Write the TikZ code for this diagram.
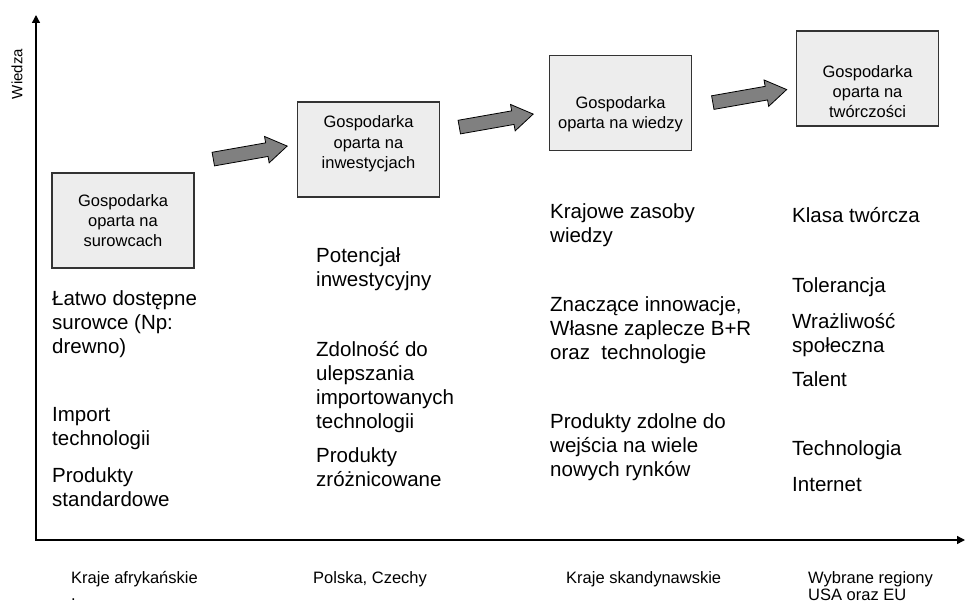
\documentclass[tikz,border=0pt]{standalone}
\usepackage{fontspec}
\setmainfont{Liberation Sans}
\usetikzlibrary{arrows.meta}
\usetikzlibrary{shapes.arrows}

\begin{document}
\begin{tikzpicture}[x=1pt, y=-1pt,
  econbox/.style={draw=black!80, line width=1.2pt, fill=black!7,
       minimum width=142pt, minimum height=95pt, inner sep=0pt},
  boxtext/.style={align=center, anchor=base, inner sep=0pt,
       font=\fontsize{16.5}{20}\selectfont},
  feature/.style={align=left, anchor=base west, inner sep=0pt,
       font=\fontsize{20.5}{24}\selectfont},
  region/.style={align=left, anchor=base west, inner sep=0pt,
       font=\fontsize{16.5}{17}\selectfont},
  fatarrow/.style={single arrow, draw=black, line width=0.8pt, fill=black!50,
       minimum height=75pt, inner sep=6.5pt, single arrow head extend=6.5pt,
       single arrow tip angle=66, rotate=10},
  axis/.style={line width=1.4pt, {Triangle[length=8pt,width=8pt]}-{Triangle[length=8pt,width=8pt]}}]

\useasboundingbox (0,0) rectangle (965,604);

% axes
\coordinate (ytop) at (36,15);
\coordinate (orig) at (36,540);
\coordinate (xend) at (965,540);
\draw[axis] (ytop) -- (orig) -- (xend);
\draw (17,74) node[region, font=\fontsize{15}{17}\selectfont, anchor=center, rotate=90] (wiedza) {Wiedza};

% boxes
\draw (123,220.5) node[econbox] (b1) {};
\draw (368.5,149.5) node[econbox] (b2) {};
\draw (620.5,103) node[econbox] (b3) {};
\draw (867.5,78.5) node[econbox] (b4) {};

% box texts (y = baseline of last line)
\draw (123,246) node[boxtext] (t1) {Gospodarka\\oparta na\\surowcach};
\draw (368.5,168) node[boxtext] (t2) {Gospodarka\\oparta na\\inwestycjach};
\draw (620.5,129) node[boxtext] (t3) {Gospodarka\\oparta na wiedzy};
\draw (867.5,118) node[boxtext] (t4) {Gospodarka\\oparta na\\twórczości};

% arrows
\draw (245,153.5) node[fatarrow] (a1) {};
\draw (491,121.5) node[fatarrow] (a2) {};
\draw (744.5,97) node[fatarrow] (a3) {};

% column 1
\draw (52,353) node[feature] (c1a) {Łatwo dostępne\\surowce (Np:\\drewno)};
\draw (52,445) node[feature] (c1b) {Import\\technologii};
\draw (52,506) node[feature] (c1c) {Produkty\\standardowe};

% column 2
\draw (316,286) node[feature] (c2a) {Potencjał\\inwestycyjny};
\draw (316,428) node[feature] (c2b) {Zdolność do\\ulepszania\\importowanych\\technologii};
\draw (316,486) node[feature] (c2c) {Produkty\\zróżnicowane};

% column 3
\draw (550,242) node[feature] (c3a) {Krajowe zasoby\\wiedzy};
\draw (550,359) node[feature] (c3b) {Znaczące innowacje,\\Własne zaplecze B+R\\oraz \ technologie};
\draw (550,476) node[feature] (c3c) {Produkty zdolne do\\wejścia na wiele\\nowych rynków};

% column 4
\draw (792,222) node[feature] (c4a) {Klasa twórcza};
\draw (792,292) node[feature] (c4b) {Tolerancja};
\draw (792,352) node[feature] (c4c) {Wrażliwość\\społeczna};
\draw (792,386) node[feature] (c4d) {Talent};
\draw (792,455) node[feature] (c4e) {Technologia};
\draw (792,491) node[feature] (c4f) {Internet};

% regions
\draw (71,600) node[region] (r1) {Kraje afrykańskie\\.};
\draw (313,583) node[region] (r2) {Polska, Czechy};
\draw (566,583) node[region] (r3) {Kraje skandynawskie};
\draw (808,600) node[region] (r4) {Wybrane regiony\\USA oraz EU};
\end{tikzpicture}
\end{document}
